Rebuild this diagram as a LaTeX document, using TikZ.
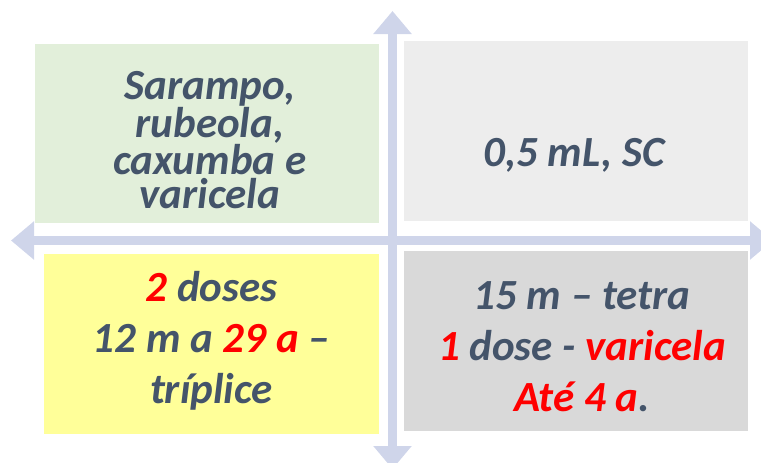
\documentclass[tikz,border=0pt]{standalone}
\usepackage{fontspec}
\setmainfont{Carlito}
\usetikzlibrary{arrows.meta}
\definecolor{axisblue}{HTML}{CFD5EA}
\definecolor{slate}{HTML}{44546A}
\definecolor{softgreen}{HTML}{E2EFDA}
\definecolor{lightgrey}{HTML}{EDEDED}
\definecolor{paleyellow}{HTML}{FFFF99}
\definecolor{midgrey}{HTML}{D9D9D9}
\newcommand{\redtxt}[1]{\textcolor{red}{#1}}

\begin{document}
\begin{tikzpicture}[x=1pt,y=-1pt,
    quad/.style={inner sep=0pt, outer sep=0pt, minimum width=344pt, minimum height=180pt},
    label text/.style={inner sep=0pt, align=center, text=slate,
        font=\bfseries\itshape\fontsize{43}{34}\selectfont},
    wide/.style={font=\bfseries\itshape\fontsize{43}{51}\selectfont},
    axis/.style={draw=axisblue, line width=9pt,
        {Triangle[length=23pt,width=37pt]}-{Triangle[length=23pt,width=37pt]}}]
    \useasboundingbox (0,0) rectangle (761,463);
    % Axes
    \coordinate (top) at (392.5,11);
    \coordinate (bottom) at (392.5,469);
    \coordinate (left) at (11,240.5);
    \coordinate (right) at (773,240.5);
    \draw[axis] (top) -- (bottom);
    \draw[axis] (left) -- (right);
    % Quadrants
    \node[quad, fill=softgreen, minimum height=179pt] (disease) at (207,133.5) {};
    \node[quad, fill=lightgrey] (route) at (576,131) {};
    \node[quad, fill=paleyellow, minimum width=335pt] (triple) at (211.5,344) {};
    \node[quad, fill=midgrey] (tetra) at (576,341) {};
    % Texts
    \node[label text] (diseasetext) at (210,140) {Sarampo,\\rubeola,\\caxumba e\\varicela};
    \node[label text] (routetext) at (574,155) {0,5 mL, SC};
    \node[label text, wide] (tripletext) at (211.5,340.5)
        {\redtxt{2} doses\\12 m a \redtxt{29 a} --\\tríplice};
    \node[label text, wide] (tetratext) at (582,347)
        {15 m -- tetra\\\redtxt{1} dose - \redtxt{varicela}\\\redtxt{Até 4 a}.};
\end{tikzpicture}
\end{document}
